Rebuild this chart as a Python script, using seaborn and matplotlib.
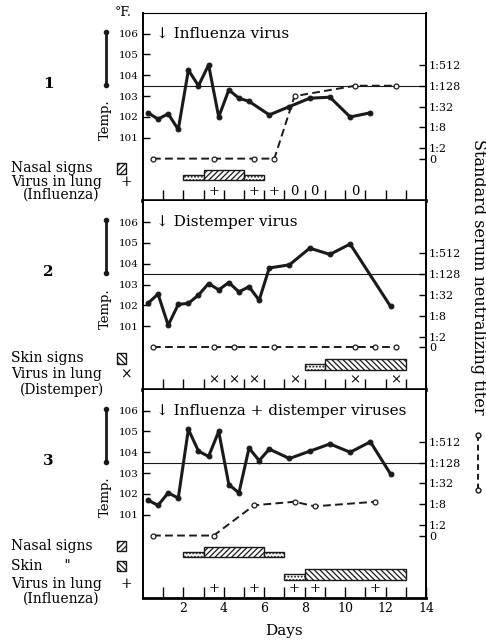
import matplotlib
matplotlib.use('Agg')
import matplotlib.pyplot as plt
import matplotlib.patches as mpatches
import matplotlib.lines as mlines
from matplotlib.ticker import NullLocator
import seaborn as sns

# Temperatures (deg F): twice daily up to day ~6, then daily
temp_days_1 = [0.25, 0.75, 1.25, 1.75, 2.25, 2.75, 3.25, 3.75, 4.25, 4.75, 5.25,
               6.25, 7.25, 8.25, 9.25, 10.25, 11.25]
temp_1 = [102.2, 101.9, 102.15, 101.4, 104.25, 103.5, 104.5, 102.0, 103.3, 102.9, 102.75,
          102.1, 102.5, 102.9, 102.95, 102.0, 102.2]

temp_days_2 = [0.25, 0.75, 1.25, 1.75, 2.25, 2.75, 3.25, 3.75, 4.25, 4.75, 5.25, 5.75,
               6.25, 7.25, 8.25, 9.25, 10.25, 12.25]
temp_2 = [102.1, 102.55, 101.05, 102.05, 102.1, 102.5, 103.05, 102.75, 103.1, 102.65, 102.9, 102.25,
          103.8, 103.95, 104.75, 104.45, 104.95, 101.95]

temp_days_3 = [0.25, 0.75, 1.25, 1.75, 2.25, 2.75, 3.25, 3.75, 4.25, 4.75, 5.25, 5.75, 6.25,
               7.25, 8.25, 9.25, 10.25, 11.25, 12.25]
temp_3 = [101.7, 101.45, 102.05, 101.8, 105.1, 104.05, 103.8, 105.0, 102.45, 102.05, 104.2, 103.6, 104.15,
          103.7, 104.05, 104.4, 104.0, 104.5, 102.95]

# Serum neutralizing titer, as reciprocal dilution (1 = the "0" baseline)
titer_days_1 = [0.5, 3.5, 5.5, 6.5, 7.5, 10.5, 12.5]
titer_1 = [1, 1, 1, 1, 64, 128, 128]
titer_days_2 = [0.5, 3.5, 4.5, 6.5, 10.5, 11.5, 12.5]
titer_2 = [1, 1, 1, 1, 1, 1, 1]
titer_days_3 = [0.5, 3.5, 5.5, 7.5, 8.5, 11.5]
titer_3 = [1, 1, 7.5, 9.5, 7, 9.5]

# Signs: (start day, end day, grade)
nasal_1 = [(2, 3, 'mild'), (3, 5, 'marked'), (5, 6, 'mild')]
skin_2 = [(8, 9, 'mild'), (9, 13, 'marked')]
nasal_3 = [(2, 3, 'mild'), (3, 6, 'marked'), (6, 7, 'mild')]
skin_3 = [(7, 8, 'mild'), (8, 13, 'marked')]

# Virus in lung results
lung_days_1 = [3.5, 5.5, 6.5, 7.5, 8.5, 10.5]
lung_1 = ['+', '+', '+', '0', '0', '0']
lung_days_2 = [3.5, 4.5, 5.5, 7.5, 10.5, 12.5]
lung_2 = ['×', '×', '×', '×', '×', '×']
lung_days_3 = [3.5, 5.5, 7.5, 8.5, 11.5]
lung_3 = ['+', '+', '+', '+', '+']

temp_ticks = [101, 102, 103, 104, 105, 106]
titer_ticks = [1, 2, 8, 32, 128, 512]
titer_labels = ['0', '1:2', '1:8', '1:32', '1:128', '1:512']

NASAL = '//////'
SKIN = '\\\\\\\\\\\\'

sns.set_theme(style='ticks', rc={'axes.edgecolor': 'black', 'text.color': 'black',
                                 'axes.labelcolor': 'black', 'xtick.color': 'black',
                                 'ytick.color': 'black'})
plt.rcParams['font.family'] = ['DejaVu Serif', 'DejaVu Sans']
plt.rcParams['hatch.linewidth'] = 0.9

fig = plt.figure(figsize=(4.86, 6.42), dpi=100)
gs = fig.add_gridspec(3, 1, height_ratios=[9.05, 9.05, 10], hspace=0,
                      left=0.294, right=0.8765, top=0.98, bottom=0.0685)

panels = [
    dict(num='1', title='↓ Influenza virus', ylim=(97.95, 107.0),
         td=temp_days_1, t=temp_1, zd=titer_days_1, z=titer_1,
         rows=[(nasal_1, 98.95, NASAL)], ld=lung_days_1, l=lung_1,
         legend=[('Nasal signs', 99.53, NASAL), ('Virus in lung', 98.9, '+'), ('(Influenza)', 98.27, None)]),
    dict(num='2', title='↓ Distemper virus', ylim=(97.95, 107.0),
         td=temp_days_2, t=temp_2, zd=titer_days_2, z=titer_2,
         rows=[(skin_2, 98.92, SKIN)], ld=lung_days_2, l=lung_2,
         legend=[('Skin signs', 99.46, SKIN), ('Virus in lung', 98.69, '×'), ('(Distemper)', 97.97, None)]),
    dict(num='3', title='↓ Influenza + distemper viruses', ylim=(97.0, 107.0),
         td=temp_days_3, t=temp_3, zd=titer_days_3, z=titer_3,
         rows=[(nasal_3, 98.95, NASAL), (skin_3, 97.88, SKIN)], ld=lung_days_3, l=lung_3,
         legend=[('Nasal signs', 99.49, NASAL), ('Skin     "', 98.54, SKIN),
                 ('Virus in lung', 97.68, '+'), ('(Influenza)', 96.97, None)]),
]

for i, p in enumerate(panels):
    ax = fig.add_subplot(gs[i])
    lo, hi = p['ylim']
    sns.lineplot(x=p['td'], y=p['t'], ax=ax, color='k', lw=2.2, marker='o', ms=3.5,
                 mec='k', errorbar=None)
    ax.axhline(103.5, color='k', lw=0.8)
    ax.set_xlim(0, 14)
    ax.set_ylim(lo, hi)
    ax.set_yticks(temp_ticks)
    ax.set_yticklabels([str(v) for v in temp_ticks])
    ax.tick_params(axis='y', direction='in', length=5, width=1, labelsize=7.5, pad=3)
    if i < 2:
        ax.set_xticks(range(1, 14))
        ax.set_xticklabels([])
        ax.tick_params(axis='x', direction='in', length=8, width=1)
        ax.spines['bottom'].set_linewidth(2.6)
        ax.set_xlabel('')
    else:
        ax.set_xticks(range(2, 15, 2))
        ax.set_xticklabels([str(d) for d in range(2, 15, 2)])
        ax.set_xticks(range(1, 14, 2), minor=True)
        ax.tick_params(axis='x', which='both', direction='in', length=8, width=1,
                       labelsize=9, pad=3)
        ax.spines['bottom'].set_linewidth(2)
        ax.set_xlabel('Days', fontsize=11, labelpad=6)
    if i == 0:
        ax.spines['top'].set_linewidth(0.8)
    else:
        ax.spines['top'].set_visible(False)
    ax.spines['right'].set_visible(False)
    ax.spines['left'].set_linewidth(1.4)
    ax.set_ylabel('')

    # sign bars
    for spans, base, hatch in p['rows']:
        for start, end, grade in spans:
            if grade == 'marked':
                ax.barh(base, end - start, left=start, height=0.52, align='edge',
                        color='white', edgecolor='k', lw=1, hatch=hatch, zorder=3)
            else:
                ax.barh(base, end - start, left=start, height=0.25, align='edge',
                        color='white', edgecolor='k', lw=1, hatch='.....', zorder=3)

    # virus-in-lung marks
    for d, s in zip(p['ld'], p['l']):
        ax.text(d, lo + 0.48, s, ha='center', va='center', fontsize=9.5)

    ax.text(0.65, 106, p['title'], ha='left', va='center', fontsize=11)

    # left-hand annotations
    ty = ax.get_yaxis_transform()
    ax.text(-0.335, 103.6, p['num'], transform=ty, ha='center', va='center',
            fontsize=11, fontweight='bold')
    ax.text(-0.134, 101.85, 'Temp.', transform=ty, rotation=90, ha='center',
            va='center', fontsize=9.5)
    ax.plot([-0.131, -0.131], [103.55, 106.1], transform=ty, clip_on=False,
            color='k', lw=2, marker='o', ms=3)
    for label, y, sym in p['legend']:
        if label.startswith('('):
            ax.text(-0.287, y, label, transform=ty, ha='center', va='center', fontsize=10)
        else:
            ax.text(-0.465, y, label, transform=ty, ha='left', va='center', fontsize=10)
        if sym in ('+', '×'):
            ax.text(-0.06, y, sym, transform=ty, ha='center', va='center', fontsize=10)
        elif sym is not None:
            ax.add_patch(mpatches.Rectangle((-0.09, y - 0.25), 0.032, 0.5, transform=ty,
                                            clip_on=False, facecolor='white',
                                            edgecolor='k', lw=1, hatch=sym))
    if i == 0:
        ax.text(-0.07, 107.0, '°F.', transform=ty, ha='center', va='center', fontsize=9)

    # titer on a log-4 right axis aligned with temperature
    ax2 = ax.twinx()
    ax2.set_yscale('log', base=4)
    ax2.set_ylim(4 ** (lo - 100), 4 ** (hi - 100))
    sns.lineplot(x=p['zd'], y=p['z'], ax=ax2, color='k', lw=1.4,
                 linestyle=(0, (4, 2.2)), marker='o', ms=3.5, mfc='white', mec='k',
                 mew=0.9, errorbar=None)
    ax2.set_ylim(4 ** (lo - 100), 4 ** (hi - 100))
    ax2.set_yticks(titer_ticks)
    ax2.set_yticklabels(titer_labels)
    ax2.yaxis.set_minor_locator(NullLocator())
    ax2.tick_params(axis='y', direction='in', length=5, width=1, labelsize=8, pad=2)
    ax2.set_ylabel('')
    for s in ['top', 'bottom', 'left']:
        ax2.spines[s].set_visible(False)
    ax2.spines['right'].set_linewidth(1.4)

fig.text(478 / 486, 1 - 277 / 642, 'Standard serum neutralizing titer', rotation=-90,
         ha='center', va='center', fontsize=11.5)
fig.add_artist(mlines.Line2D([478 / 486, 478 / 486], [1 - 435 / 642, 1 - 490 / 642],
                             transform=fig.transFigure, color='k', lw=1.4,
                             linestyle=(0, (3, 2)), marker='o', ms=3.5,
                             mfc='white', mec='k'))

fig.savefig('out.png', dpi=100)
